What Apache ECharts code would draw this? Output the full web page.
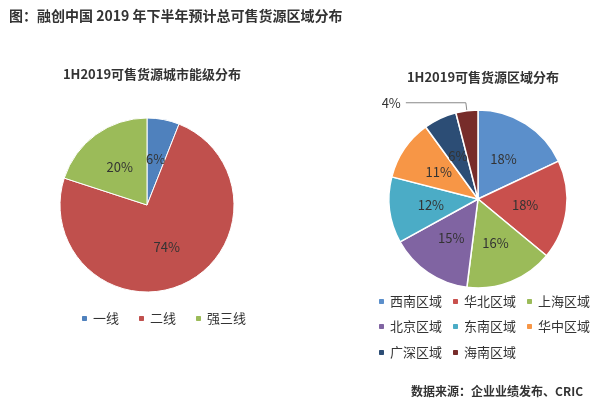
<!DOCTYPE html>
<html><head><meta charset="utf-8">
<script src="https://cdn.jsdelivr.net/npm/echarts@6/dist/echarts.min.js"></script>
<style>html,body{margin:0;background:#fff}#c{width:600px;height:408px}</style>
</head><body><div id="c"></div>
<script>
var tierNames = ['一线', '二线', '强三线'];
var tierValues = [6, 74, 20];
var regionNames = ['西南区域', '华北区域', '上海区域', '北京区域', '东南区域', '华中区域', '广深区域', '海南区域'];
var regionValues = [18, 18, 16, 15, 12, 11, 6, 4];

var tierColors = ['#4F81BD', '#C0504D', '#9BBB59'];
var regionColors = ['#5B8FCB', '#C9504D', '#9BBB59', '#8064A2', '#4BACC6', '#F79646', '#2C4D75', '#772C2A'];
var font = '"Noto Sans CJK SC", sans-serif';

var myChart = echarts.init(document.getElementById('c'));
var option = {
    textStyle: {fontFamily: font},
    title: [
        {text: '图：融创中国 2019 年下半年预计总可售货源区域分布', left: 4, top: 4,
         textStyle: {fontSize: 14, fontWeight: 'bold', color: '#333', fontFamily: font}},
        {text: '1H2019可售货源城市能级分布', left: 147, top: 63, textAlign: 'center',
         textStyle: {fontSize: 13, fontWeight: 'bold', color: '#333', fontFamily: font}},
        {text: '1H2019可售货源区域分布', left: 478, top: 66, textAlign: 'center',
         textStyle: {fontSize: 13, fontWeight: 'bold', color: '#333', fontFamily: font}},
        {text: '数据来源：企业业绩发布、CRIC', right: 12, top: 380,
         textStyle: {fontSize: 12, fontWeight: 'bold', color: '#333', fontFamily: font}}
    ],
    legend: [
        {data: tierNames, left: 75, top: 307, itemWidth: 7, itemHeight: 7, itemGap: 18,
         textStyle: {fontSize: 13, color: '#333'}},
        {data: regionNames.slice(0, 3), left: 372, top: 290, itemWidth: 7, itemHeight: 7, itemGap: 9,
         textStyle: {fontSize: 13, color: '#333'}},
        {data: regionNames.slice(3, 6), left: 372, top: 315, itemWidth: 7, itemHeight: 7, itemGap: 9,
         textStyle: {fontSize: 13, color: '#333'}},
        {data: regionNames.slice(6), left: 372, top: 341, itemWidth: 7, itemHeight: 7, itemGap: 9,
         textStyle: {fontSize: 13, color: '#333'}}
    ],
    series: [
        {
            type: 'pie', center: [147, 205], radius: 87, startAngle: 90, clockwise: true,
            color: tierColors,
            itemStyle: {borderColor: '#fff', borderWidth: 1},
            label: {position: 'inside', formatter: '{c}%', fontSize: 13, color: '#333'},
            data: tierNames.map(function (n, i) { return {name: n, value: tierValues[i]}; })
        },
        {
            type: 'pie', center: [478, 199], radius: 89, startAngle: 90, clockwise: true,
            color: regionColors,
            itemStyle: {borderColor: '#fff', borderWidth: 1.5},
            label: {position: 'inside', formatter: '{c}%', fontSize: 13, color: '#333'},
            data: regionNames.map(function (n, i) {
                var d = {name: n, value: regionValues[i]};
                if (i === regionNames.length - 1) {
                    d.label = {position: 'outside', color: '#333'};
                    d.labelLine = {show: true, length: 8, length2: 60, lineStyle: {color: '#888'}};
                }
                return d;
            })
        }
    ]
};
myChart.setOption(option);
</script></body></html>
